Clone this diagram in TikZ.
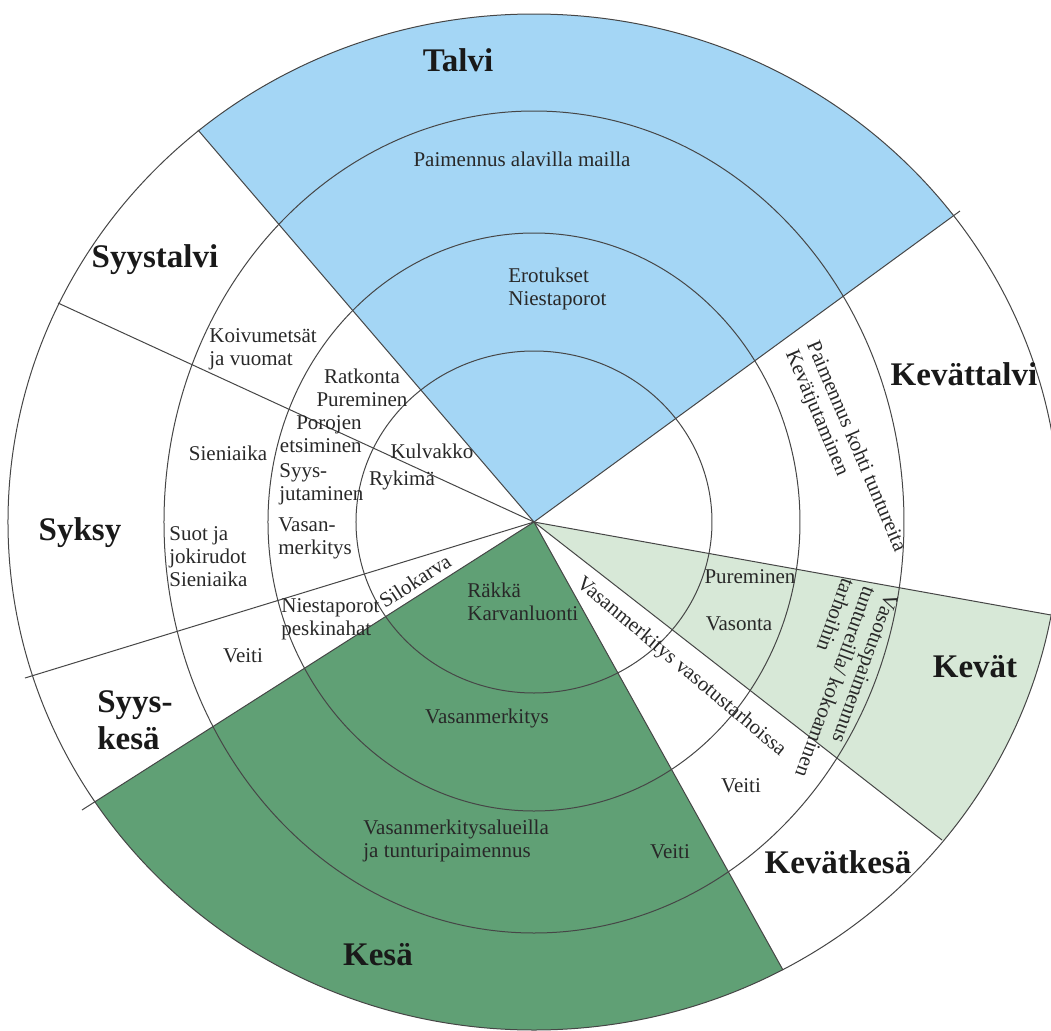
\documentclass[tikz,border=0pt]{standalone}
\usepackage{fontspec}
\setmainfont{Liberation Serif}
\usepackage{xcolor}
\usepackage{tikz}
\usetikzlibrary{calc}
\definecolor{talviblue}{RGB}{164,214,245}
\definecolor{kesagreen}{RGB}{96,160,117}
\definecolor{kevatgreen}{RGB}{215,232,215}
\definecolor{linegray}{RGB}{70,70,70}
\definecolor{textgray}{RGB}{40,40,40}

\begin{document}
\begin{tikzpicture}[x=0.5pt, y=0.5pt,
    ring/.style={draw=linegray, line width=0.5pt},
    season/.style={font=\bfseries\fontsize{16.5}{18.5}\selectfont, text=black!90, inner sep=0pt},
    work/.style={font=\fontsize{10.5}{11.5}\selectfont, text=textgray, inner sep=0pt}]
\useasboundingbox (-534,-508) rectangle (517,522);
\clip (-534,-508) rectangle (517,522);

\coordinate (o) at (0,0);
\foreach \x/\y [count=\i] in {
    -336/392, 426/311, -476/219, -509/-156,
    -452/-288, 249/-448, 408/-318, 517/-93}
    \coordinate (r\i) at (\x,\y);

\begin{scope}
\clip (o) ellipse [x radius=526, y radius=508];
\fill[talviblue] (o) -- ($(o)!3!(r2)$) -- (0,1600) -- ($(o)!3!(r1)$) -- cycle;
\fill[kesagreen] (o) -- ($(o)!3!(r5)$) -- (0,-1600) -- ($(o)!3!(r6)$) -- cycle;
\fill[kevatgreen] (o) -- ($(o)!3!(r7)$) -- ($(o)!3!(r8)$) -- cycle;
\end{scope}

\foreach \a/\b in {178/171, 266/289, 370/411, 526/508}
    \draw[ring] (o) ellipse [x radius=\a, y radius=\b];

\foreach \i in {1,...,8}
    \draw[ring] (o) -- (r\i);

\foreach \x/\y/\m [count=\i] in {
    -76/451/Talvi, -379/255/Syystalvi, -454/-18/Syksy, -156/-443/Kesä,
    304/-351/Kevätkesä, 441/-155/Kevät, 430/137/Kevättalvi}
    \node[season, anchor=base] (season\i) at (\x,\y) {\m};
\node[season, align=left, anchor=north west] (syyskesa) at (-437,-168) {Syys-\\kesä};

\foreach \x/\y/\m [count=\i] in {
    -12/356/Paimennus alavilla mailla, -306/62/Sieniaika, -102/64/Kulvakko,
    -132/37/Rykimä, -291/-140/Veiti, -47/-201/Vasanmerkitys, 136/-336/Veiti,
    207/-270/Veiti, 216/-61/Pureminen, 205/-108/Vasonta}
    \node[work, anchor=base] (work\i) at (\x,\y) {\m};

\node[work, align=left, anchor=north west] (erotukset) at (-26,254) {Erotukset\\Niestaporot};
\node[work, align=left, anchor=north west] (koivu) at (-325,194) {Koivumetsät\\ja vuomat};
\node[work, align=center, anchor=north] (ratkonta) at (-172,153) {Ratkonta\\Pureminen};
\node[work, align=right, anchor=north east] (porojen) at (-172,107) {Porojen\\etsiminen};
\node[work, align=left, anchor=north west] (syysjut) at (-255,59) {Syys-\\jutaminen};
\node[work, align=left, anchor=north west] (vasan) at (-256,5) {Vasan-\\merkitys};
\node[work, align=left, anchor=north west] (suot) at (-365,-4) {Suot ja\\jokirudot\\Sieniaika};
\node[work, align=left, anchor=north west] (niesta) at (-253,-76) {Niestaporot\\peskinahat};
\node[work, align=left, anchor=north west] (rakka) at (-67,-61) {Räkkä\\Karvanluonti};
\node[work, align=left, anchor=north west] (alueilla) at (-171,-298) {Vasanmerkitysalueilla\\ja tunturipaimennus};

\node[work, rotate=33] (silokarva) at (-119,-59) {Silokarva};
\node[work, rotate=-40] (tarhoissa) at (147,-145) {Vasanmerkitys vasotustarhoissa};
\node[work, rotate=-67, align=left] (kohti) at (311,71) {Paimennus kohti tuntureita\\Kevätjutaminen};
\node[work, rotate=-110, align=left] (vasotus) at (302,-160) {Vasotuspaimennus\\tuntureilla/ kokoaminen\\tarhoihin};

\end{tikzpicture}
\end{document}
